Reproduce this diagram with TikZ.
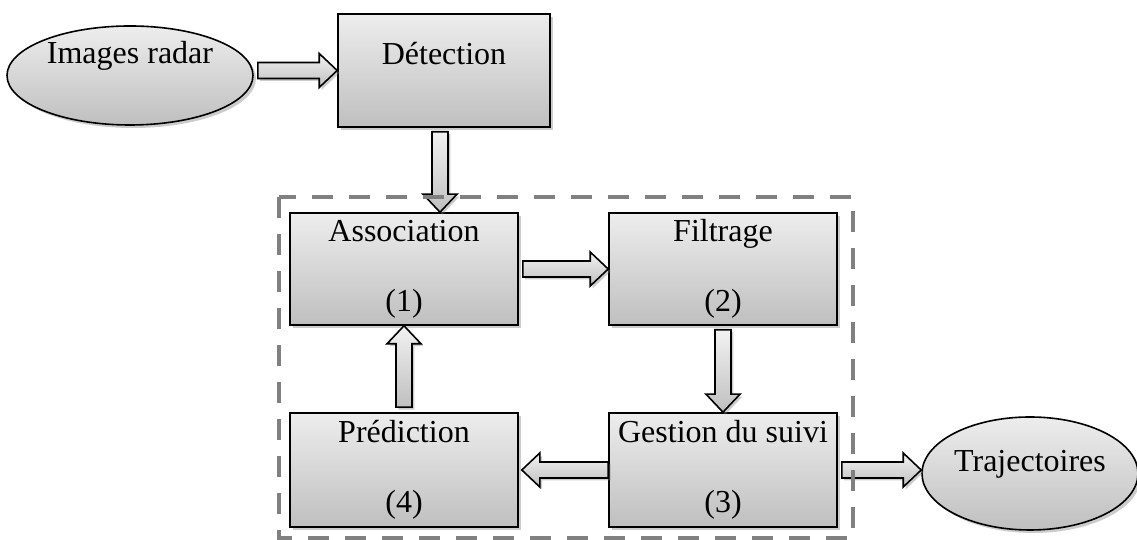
\documentclass[tikz,border=0pt]{standalone}
\usepackage{fontspec}
\setmainfont{Liberation Serif}
\usetikzlibrary{calc,shapes.geometric,shadows}
\definecolor{cFrame}{RGB}{128,128,128}
% half shaft, half head, head length (pt)
\newcommand\arrshaft{4}
\newcommand\arrhead{8.5}
\newcommand\arrtip{9}
\tikzset{
  blockbox/.style={rectangle, draw, line width=0.8pt, top color=black!7, bottom color=black!25,
    drop shadow={shadow xshift=1.5pt, shadow yshift=-1.5pt, opacity=0.4},
    minimum width=114pt, minimum height=56pt, inner sep=2pt, align=center,
    font=\fontsize{16}{19}\selectfont},
  oval/.style={ellipse, draw, line width=0.8pt, top color=black!7, bottom color=black!25,
    drop shadow={shadow xshift=1.5pt, shadow yshift=-1.5pt, opacity=0.4},
    inner sep=0pt, align=center, font=\fontsize{16}{19}\selectfont},
  fat/.style={draw, line width=0.8pt, top color=black!5, bottom color=black!25,
    drop shadow={shadow xshift=1.2pt, shadow yshift=-1.2pt, opacity=0.4},
    to path={let \p1=(\tikztostart), \p2=(\tikztotarget),
      \n1={veclen(\x2-\x1,\y2-\y1)}, \n2={(\x2-\x1)/\n1}, \n3={(\y2-\y1)/\n1} in
      ({\x1-\n3*\arrshaft},{\y1+\n2*\arrshaft})
      -- ({\x2-\n2*\arrtip-\n3*\arrshaft},{\y2-\n3*\arrtip+\n2*\arrshaft})
      -- ({\x2-\n2*\arrtip-\n3*\arrhead},{\y2-\n3*\arrtip+\n2*\arrhead})
      -- (\p2)
      -- ({\x2-\n2*\arrtip+\n3*\arrhead},{\y2-\n3*\arrtip-\n2*\arrhead})
      -- ({\x2-\n2*\arrtip+\n3*\arrshaft},{\y2-\n3*\arrtip-\n2*\arrshaft})
      -- ({\x1+\n3*\arrshaft},{\y1-\n2*\arrshaft}) -- cycle}}
}

\begin{document}
\begin{tikzpicture}[x=0.5pt,y=0.5pt]
\useasboundingbox (0,0) rectangle (1137,540);

\node[oval, minimum width=123pt, minimum height=49.5pt] (ir) at (130,464.5) {Images radar\\[4pt]\mbox{}};
\node[blockbox, minimum width=106pt, minimum height=56.5pt] (det) at (444,469.5) {Détection\\[-2pt]\mbox{}};

\node[blockbox] (assoc) at (404,271) {Association\\[16pt](1)};
\node[blockbox] (filt) at (723,271) {Filtrage\\[16pt](2)};
\node[blockbox, minimum height=57pt] (pred) at (404,70) {Prédiction\\[16pt](4)};
\node[blockbox, minimum height=57pt] (gest) at (723,70) {Gestion du suivi\\[16pt](3)};

\node[oval, minimum width=108pt, minimum height=56.5pt] (traj) at (1030,66.5) {Trajectoires\\[-6pt]\mbox{}};

\draw[fat] ($(ir.east |- det.west)+(4,0)$) to (det.west);
\draw[fat] ($(det.south)+(-4,-4)$) to ($(det.south |- assoc.north)+(-4,0)$);
\draw[fat] ($(assoc.east)+(4,0)$) to (filt.west);
\draw[fat] ($(filt.south)+(0,-4)$) to (gest.north);
\draw[fat] (gest.west) to ($(pred.east)+(3,0)$);
\draw[fat] ($(pred.north)+(0,5)$) to (assoc.south);
\draw[fat] ($(gest.east)+(4,0)$) to (gest.east -| traj.west);

% tracking loop
\draw[cFrame, line width=1.6pt, dash pattern=on 10.5pt off 8pt] (279,343) rectangle (853,2);
\end{tikzpicture}
\end{document}
